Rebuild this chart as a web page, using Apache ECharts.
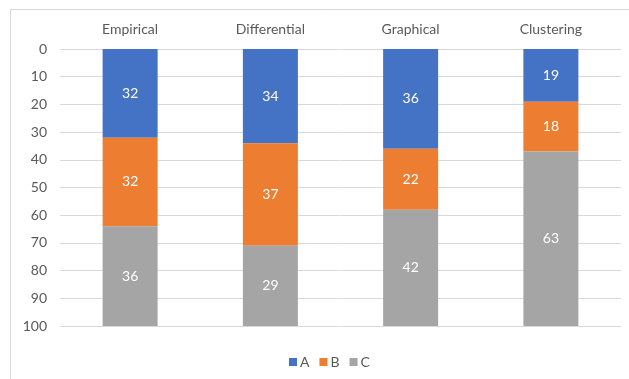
<!DOCTYPE html>
<html>
<head>
<meta charset="utf-8">
<script src="https://cdn.jsdelivr.net/npm/echarts@6/dist/echarts.min.js"></script>
<style>
  html, body { margin: 0; padding: 0; background: #fff; }
  #chart { width: 629px; height: 379px; }
</style>
</head>
<body>
<div id="chart"></div>
<script>
// Categories and stacked shares (percent) per method
const categories = ['Empirical', 'Differential', 'Graphical', 'Clustering'];
const seriesA = [32, 34, 36, 19];
const seriesB = [32, 37, 22, 18];
const seriesC = [36, 29, 42, 63];
const seriesNames = ['A', 'B', 'C'];
const colors = ['#4472C4', '#ED7D31', '#A5A5A5'];

const FONT = 'Lato, "Liberation Sans", sans-serif';
const chart = echarts.init(document.getElementById('chart'), null, { renderer: 'canvas' });

const makeSeries = (name, data, color) => ({
  name,
  type: 'bar',
  stack: 'total',
  data,
  barWidth: 55,
  itemStyle: { color },
  label: {
    show: true,
    position: 'inside',
    color: '#ffffff',
    fontFamily: FONT,
    fontSize: 14
  }
});

chart.setOption({
  animation: false,
  color: colors,
  textStyle: { fontFamily: FONT },
  graphic: [{
    type: 'rect',
    shape: { x: 10.5, y: 9.5, width: 700, height: 500 },
    style: { fill: 'none', stroke: '#D9D9D9', lineWidth: 1 },
    silent: true,
    z: -1
  }],
  grid: { left: 60, right: 8, top: 49, bottom: 53, containLabel: false },
  legend: {
    top: 355,
    left: 289,
    padding: 0,
    itemWidth: 8,
    itemHeight: 8,
    itemGap: 10,
    icon: 'rect',
    data: seriesNames,
    textStyle: { color: '#595959', fontSize: 14, fontFamily: FONT, padding: [0, 0, 0, -2] }
  },
  xAxis: {
    type: 'category',
    position: 'top',
    data: categories,
    axisLine: { show: false },
    axisTick: { show: false },
    axisLabel: { color: '#595959', fontSize: 14, fontFamily: FONT, margin: 13 }
  },
  yAxis: {
    type: 'value',
    inverse: true,
    min: 0,
    max: 100,
    interval: 10,
    axisLine: { show: false },
    axisTick: { show: false },
    axisLabel: { color: '#595959', fontSize: 14, fontFamily: FONT, margin: 13 },
    splitLine: { lineStyle: { color: '#D9D9D9', width: 1 } }
  },
  series: [
    makeSeries(seriesNames[0], seriesA, colors[0]),
    makeSeries(seriesNames[1], seriesB, colors[1]),
    makeSeries(seriesNames[2], seriesC, colors[2])
  ]
});
</script>
</body>
</html>
